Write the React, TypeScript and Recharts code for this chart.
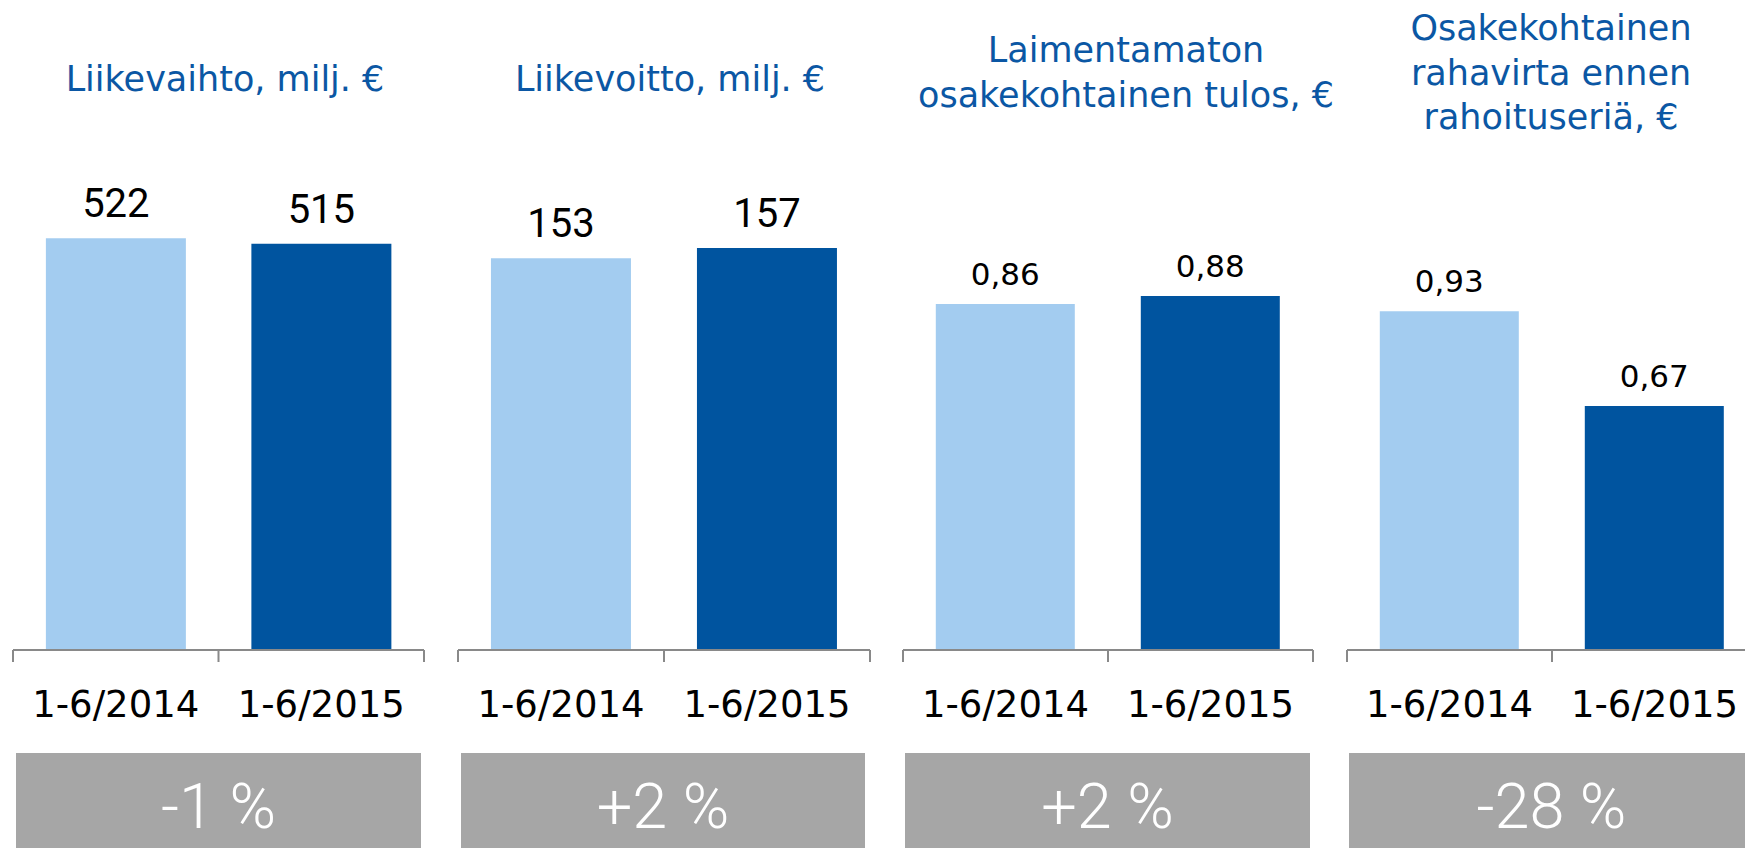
import React from "react";
import { BarChart, Bar, XAxis, YAxis, Cell, LabelList, ReferenceLine } from "recharts";

const categories = ["1-6/2014", "1-6/2015"];
const liikevaihto = [522, 515];
const liikevoitto = [153, 157];
const eps = [0.86, 0.88];
const cashflow = [0.93, 0.67];
const changes = ["-1 %", "+2 %", "+2 %", "-28 %"];
const titles = [
  ["Liikevaihto, milj. €"],
  ["Liikevoitto, milj. €"],
  ["Laimentamaton", "osakekohtainen tulos, €"],
  ["Osakekohtainen", "rahavirta ennen", "rahoituseriä, €"],
];

const LIGHT = "#A3CCF0";
const DARK = "#00549F";
const TITLE = "#0B57A4";
const AXIS = "#898989";
const BOX = "#A6A6A6";
const PAD = 2;

type Panel = {
  values: number[];
  left: number;
  width: number;
  max: number;
  decimals: number;
  labelFont: string;
  labelSize: number;
  labelOffset: number;
  titleX: number;
  titleY: number;
  boxLeft: number;
  boxRight: number;
};

const panels: Panel[] = [
  { values: liikevaihto, left: 13, width: 411, max: 633.7, decimals: 0, labelFont: "Roboto", labelSize: 40, labelOffset: 21, titleX: 225, titleY: 91, boxLeft: 16, boxRight: 421 },
  { values: liikevoitto, left: 458, width: 412, max: 195.3, decimals: 0, labelFont: "Roboto", labelSize: 40, labelOffset: 21, titleX: 670, titleY: 91, boxLeft: 461, boxRight: 865 },
  { values: eps, left: 903, width: 410, max: 1.2428, decimals: 2, labelFont: "DejaVu Sans", labelSize: 31, labelOffset: 19, titleX: 1126, titleY: 62, boxLeft: 905, boxRight: 1310 },
  { values: cashflow, left: 1347, width: 410, max: 1.3725, decimals: 2, labelFont: "DejaVu Sans", labelSize: 31, labelOffset: 19, titleX: 1551, titleY: 40, boxLeft: 1349, boxRight: 1754 },
];

const fmt = (d: number) => (v: any) =>
  d === 0 ? String(v) : Number(v).toFixed(d).replace(".", ",");

// Short tick mark hanging below the axis at a band boundary
const TickMark = (props: any) => {
  const { x1, x2, y1, y2 } = props;
  const yb = Math.max(Number(y1), Number(y2));
  return <line x1={x1} x2={x2} y1={yb} y2={yb + 12} stroke={AXIS} strokeWidth={2} />;
};

function PanelChart({ p }: { p: Panel }) {
  const data = categories.map((c, i) => ({ name: c, value: p.values[i] }));
  return (
    <div style={{ position: "absolute", left: p.left - PAD, top: 0 }}>
      <BarChart
        width={p.width + 2 * PAD}
        height={848}
        data={data}
        margin={{ top: 150, right: PAD, bottom: 0, left: PAD }}
        barCategoryGap="16%"
      >
        <XAxis
          dataKey="name"
          height={198}
          axisLine={{ stroke: AXIS, strokeWidth: 2 }}
          tickLine={false}
          tickSize={0}
          tickMargin={41}
          tick={{ fill: "#000", fontSize: 37, fontFamily: "DejaVu Sans" }}
          interval={0}
        />
        <YAxis hide domain={[0, p.max]} allowDataOverflow />
        <Bar dataKey="value" isAnimationActive={false}>
          {data.map((_, i) => (
            <Cell key={i} fill={i === 0 ? LIGHT : DARK} />
          ))}
          <LabelList
            dataKey="value"
            position="top"
            offset={p.labelOffset}
            formatter={fmt(p.decimals)}
            style={{ fill: "#000", fontSize: p.labelSize, fontFamily: p.labelFont }}
          />
        </Bar>
        {categories.map((c) => (
          <ReferenceLine key={"s" + c} x={c} position="start" shape={TickMark} ifOverflow="visible" />
        ))}
        <ReferenceLine
          x={categories[categories.length - 1]}
          position="end"
          shape={TickMark}
          ifOverflow="visible"
        />
      </BarChart>
    </div>
  );
}

export default function App() {
  return (
    <div
      style={{
        position: "absolute",
        left: 0,
        top: 0,
        width: 1745,
        height: 848,
        overflow: "hidden",
        background: "#fff",
      }}
    >
      {panels.map((p, i) => (
        <PanelChart key={i} p={p} />
      ))}
      <svg
        width={1745}
        height={848}
        style={{ position: "absolute", left: 0, top: 0, pointerEvents: "none" }}
      >
        {panels.map((p, i) => (
          <g key={i}>
            <text
              textAnchor="middle"
              fill={TITLE}
              fontSize={35}
              fontFamily="DejaVu Sans"
            >
              {titles[i].map((line, j) => (
                <tspan key={j} x={p.titleX} y={p.titleY + j * 44.5}>
                  {line}
                </tspan>
              ))}
            </text>
            <rect x={p.boxLeft} y={753} width={p.boxRight - p.boxLeft} height={95} fill={BOX} />
            <text
              x={(p.boxLeft + p.boxRight) / 2}
              y={828}
              textAnchor="middle"
              fill="#fff"
              fontSize={63}
              fontWeight={300}
              fontFamily="Roboto"
            >
              {changes[i]}
            </text>
          </g>
        ))}
      </svg>
    </div>
  );
}
